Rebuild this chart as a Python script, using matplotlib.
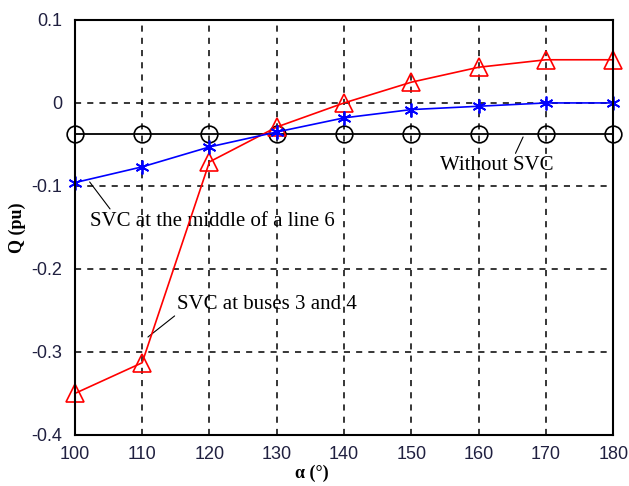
import matplotlib
matplotlib.use("Agg")
import matplotlib.pyplot as plt

alpha = [100, 110, 120, 130, 140, 150, 160, 170, 180]
q_buses = [-0.35, -0.313, -0.071, -0.029, 0.0, 0.025, 0.043, 0.052, 0.052]
q_mid = [-0.096, -0.077, -0.053, -0.035, -0.018, -0.008, -0.004, 0.0, 0.0]
q_none = [-0.038] * 9

xticks = [100, 110, 120, 130, 140, 150, 160, 170, 180]
yticks = [-0.4, -0.3, -0.2, -0.1, 0, 0.1]
ytick_labels = ["-0.4", "-0.3", "-0.2", "-0.1", "0", "0.1"]

fig = plt.figure(figsize=(6.29, 4.86), dpi=100)
ax = fig.add_axes([0.119, 0.105, 0.856, 0.854])

ax.plot(alpha, q_none, color="black", lw=1.3, marker="o", ms=12,
        mfc="none", mec="black", mew=1.2, zorder=3, clip_on=False)
ax.plot(alpha, q_buses, color="red", lw=1.2, marker="^", ms=13,
        mfc="none", mec="red", mew=1.2, zorder=4, clip_on=False)
ax.plot(alpha, q_mid, color="blue", lw=1.2, marker=(6, 2, 0), ms=10,
        mec="blue", mew=1.3, zorder=5, clip_on=False)

ax.set_xlim(100, 180)
ax.set_ylim(-0.4, 0.1)
ax.set_xticks(xticks)
ax.set_yticks(yticks)
ax.set_yticklabels(ytick_labels)
ax.tick_params(labelsize=13, direction="in", length=0, labelcolor="#202040")
ax.tick_params(axis="x", pad=8)
ax.tick_params(axis="y", pad=9)
for lab in ax.get_xticklabels() + ax.get_yticklabels():
    lab.set_family("Liberation Sans")
ax.grid(True, color="black", ls=(0, (4, 4)), lw=1.1)
for s in ax.spines.values():
    s.set_linewidth(1.5)
    s.set_zorder(6)

ax.set_xlabel("α (°)", fontsize=13, fontweight="bold", family="Liberation Serif")
ax.xaxis.set_label_coords(0.4405, -0.072)
ax.set_ylabel("Q (pu)", fontsize=13, fontweight="bold", family="Liberation Serif", labelpad=4)

tfont = dict(fontsize=15, family="Liberation Serif", color="black")
ax.annotate("Without SVC", xy=(166.6, -0.041), xytext=(162.75, -0.0755),
            ha="center", va="center", arrowprops=dict(arrowstyle="-", color="black", lw=0.8,
                                                      shrinkA=0, shrinkB=0,
                                                      relpos=(0.65, 1.0)), **tfont)
ax.annotate("SVC at the middle of a line 6", xy=(102.2, -0.0952), xytext=(120.45, -0.1425),
            ha="center", va="center", arrowprops=dict(arrowstyle="-", color="black", lw=0.8,
                                                      shrinkA=0, shrinkB=0,
                                                      relpos=(0.09, 1.0)), **tfont)
ax.annotate("SVC at buses 3 and 4", xy=(110.86, -0.282), xytext=(128.6, -0.2425),
            ha="center", va="center", arrowprops=dict(arrowstyle="-", color="black", lw=0.8,
                                                      shrinkA=0, shrinkB=0,
                                                      relpos=(0.0, 0.0)), **tfont)

fig.savefig("out.png", dpi=100)
